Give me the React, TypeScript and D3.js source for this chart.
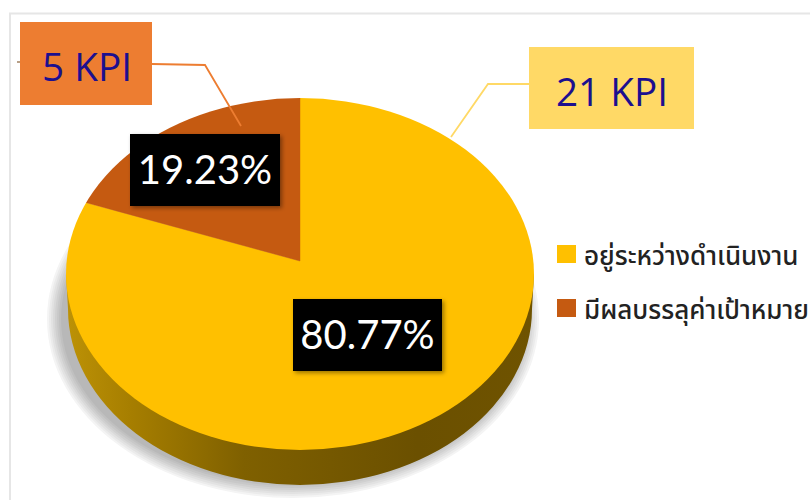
import React from "react";
import * as d3 from "d3";

const categories = ["อยู่ระหว่างดำเนินงาน", "มีผลบรรลุค่าเป้าหมาย"];
const kpiCounts = [21, 5];
const kpiLabels = ["21 KPI", "5 KPI"];
const percentLabels = ["80.77%", "19.23%"];
const sliceColors = ["#ffc000", "#c55a11"];
const shadowRings = [14, 12, 10, 8, 6, 4, 2, 0];
const shadowGreys = ["#f4f4f4", "#ebebeb", "#e2e2e2", "#d9d9d9", "#d0d0d0", "#c8c8c8", "#c0c0c0", "#b8b8b8"];

const W = 810, H = 500;
const cx = 300, cy = 274, rx = 234, ry = 176, depth = 35;
const apexY = 261, squash = 0.72;

const pieGen = d3.pie<number>().sort(null).startAngle(0).endAngle(2 * Math.PI);
const arcs = pieGen(kpiCounts);
const arcGen = d3.arc<d3.PieArcDatum<number>>().innerRadius(0).outerRadius(600);
const sidePath = `M${cx - rx},${cy} L${cx - rx + 2},${cy + depth} A${rx - 2},${ry} 0 0 0 ${cx + rx - 2},${cy + depth} L${cx + rx},${cy} Z`;
const font = "'Open Sans','Noto Sans',sans-serif";

function Badge({ x, y, w, h, text, fs }: { x: number; y: number; w: number; h: number; text: string; fs: number }) {
  return (
    <g>
      <rect x={x} y={y} width={w} height={h} fill="#000" filter="url(#boxShadow)" />
      <text x={x + w / 2} y={y + h / 2 + fs * 0.36} fill="#fff" fontSize={fs} textAnchor="middle" fontFamily="Lato,'Open Sans',sans-serif">{text}</text>
    </g>
  );
}

export default function App() {
  return (
    <svg width={W} height={H} viewBox={`0 0 ${W} ${H}`} style={{ position: "absolute", left: 0, top: 0, background: "#fff" }}>
      <defs>
        <linearGradient id="sideGrad" x1="0" x2="1" y1="0" y2="0">
          <stop offset="0" stopColor="#bd9206" />
          <stop offset="0.14" stopColor="#a67e00" />
          <stop offset="0.38" stopColor="#7f6000" />
          <stop offset="0.75" stopColor="#6b5000" />
          <stop offset="1" stopColor="#6f5300" />
        </linearGradient>
        <clipPath id="topClip"><ellipse cx={cx} cy={cy} rx={rx} ry={ry} /></clipPath>
        <filter id="boxShadow" x="-10%" y="-10%" width="125%" height="130%">
          <feDropShadow dx="2" dy="2" stdDeviation="2" floodColor="#000" floodOpacity="0.4" />
        </filter>
      </defs>

      <path d={`M10,500 L10,13.5 L810,13.5`} fill="none" stroke="#e6e6e6" strokeWidth="2" />

      {shadowRings.map((g, i) => (
        <ellipse key={g} cx={293} cy={319} rx={232 + g} ry={165 + g} fill={shadowGreys[i]} />
      ))}
      <path d={sidePath} fill="url(#sideGrad)" />
      <g clipPath="url(#topClip)">
        <g transform={`translate(${cx},${apexY}) scale(1,${squash})`}>
          {arcs.map((a, i) => (
            <path key={categories[i]} d={arcGen(a) ?? ""} fill={sliceColors[i]} stroke={sliceColors[i]} strokeWidth="0.5" />
          ))}
        </g>
      </g>

      <path d="M17,62 L20,62" stroke="#a08060" strokeWidth="1.5" fill="none" />
      <polyline points="152,64 205,65 241,126" fill="none" stroke="#ed7d31" strokeWidth="1.8" />
      <polyline points="529,84 488,84 451,137" fill="none" stroke="#ffd966" strokeWidth="1.8" />

      <rect x={20} y={22} width={132} height={83} fill="#ed7d31" />
      <text x={87} y={81} fill="#1c0f8f" fontSize={39} textAnchor="middle" fontFamily={font} textLength={90} lengthAdjust="spacingAndGlyphs">{kpiLabels[1]}</text>
      <rect x={529} y={47} width={165} height={82} fill="#ffd966" />
      <text x={612} y={106} fill="#1c0f8f" fontSize={39} textAnchor="middle" fontFamily={font} textLength={112} lengthAdjust="spacingAndGlyphs">{kpiLabels[0]}</text>

      <Badge x={130} y={134} w={150} h={72} text={percentLabels[1]} fs={40} />
      <Badge x={293} y={299} w={149} h={72} text={percentLabels[0]} fs={40} />

      {categories.map((c, i) => (
        <g key={c}>
          <rect x={557} y={i === 0 ? 245 : 299} width={19} height={18} fill={sliceColors[i]} />
          <text x={584} y={i === 0 ? 265 : 319} fontSize={26} fontWeight={500} fill="#222" fontFamily="'Noto Sans Thai','Noto Sans','Noto Sans CJK SC',sans-serif">{c}</text>
        </g>
      ))}
    </svg>
  );
}
